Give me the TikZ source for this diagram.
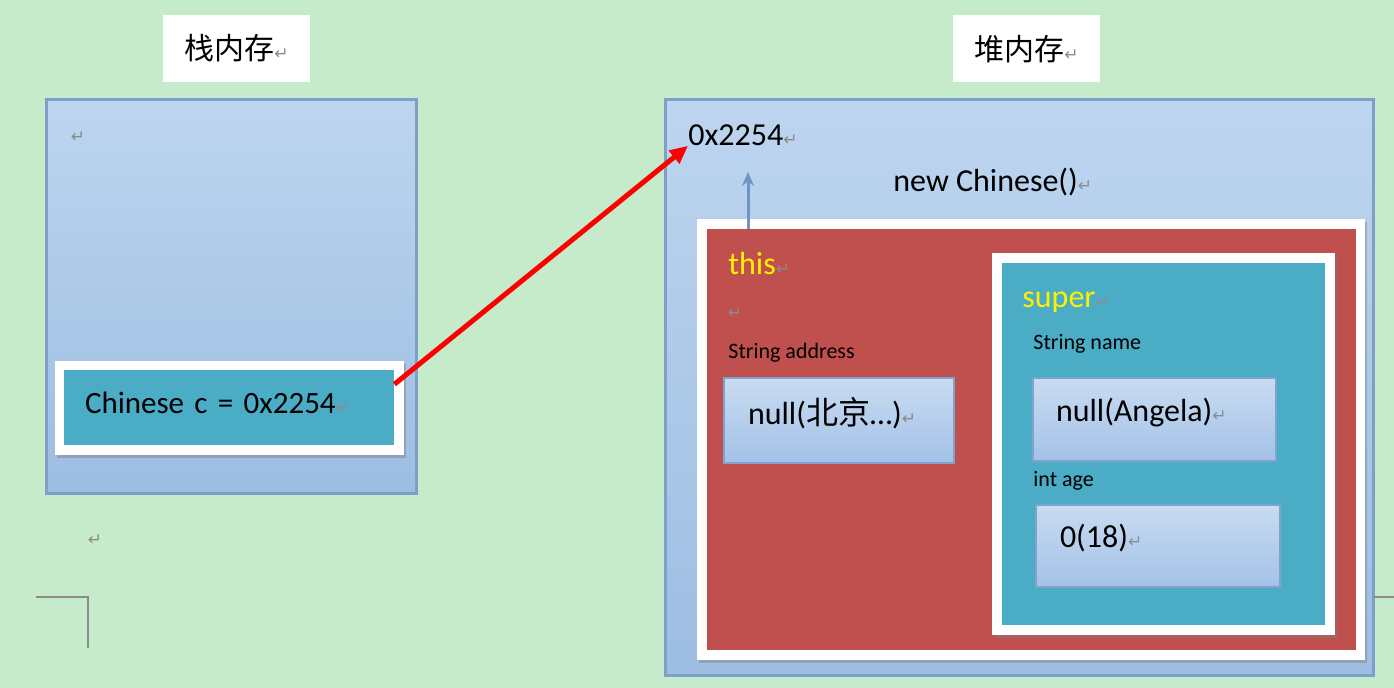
\documentclass[tikz,border=0pt]{standalone}
\usepackage{fontspec}
\setmainfont{Carlito}
\newfontfamily\cjk{Noto Sans CJK SC}
\newfontfamily\retfont{DejaVu Sans}
\usetikzlibrary{arrows.meta}
\usetikzlibrary{positioning}
\usetikzlibrary{shadows}

\definecolor{bg}{HTML}{C6EBCA}
\definecolor{boxline}{HTML}{7D9FCA}
\definecolor{memtop}{HTML}{BDD5EF}
\definecolor{membot}{HTML}{9DBDE2}
\definecolor{valtop}{HTML}{C8DCF2}
\definecolor{valbot}{HTML}{A4C1E6}
\definecolor{valline}{HTML}{7FA3CF}
\definecolor{panelcyan}{HTML}{4BACC6}
\definecolor{objred}{HTML}{C0504D}
\definecolor{keyyellow}{HTML}{FFF000}
\definecolor{uparrow}{HTML}{6E95C4}
\definecolor{retgray}{HTML}{8C8C8C}

\newcommand{\retmark}{{\retfont\fontsize{8.5}{10}\selectfont\color{retgray}↵}}

\tikzset{
  title/.style={fill=white, minimum width=73.5pt, minimum height=33.5pt, font=\fontsize{15}{18}\selectfont},
  memory/.style={draw=boxline, line width=1.5pt, top color=memtop, bottom color=membot},
  frame/.style={fill=white, drop shadow={shadow xshift=1pt, shadow yshift=-1.5pt, fill=black!50, opacity=.45}},
  valuebox/.style={draw=valline, line width=1.2pt, top color=valtop, bottom color=valbot, align=left,
                   text depth=10pt, font=\fontsize{16}{19}\selectfont},
  keyword/.style={anchor=west, inner sep=0pt, text=keyyellow, font=\fontsize{16}{19}\selectfont},
  field/.style={anchor=west, inner sep=0pt, font=\fontsize{11}{13}\selectfont},
  plain/.style={anchor=west, inner sep=0pt, font=\fontsize{16}{19}\selectfont},
}

\begin{document}
\begin{tikzpicture}[x=1pt, y=1pt, >=Stealth]
    \fill[bg] (0,0) rectangle (697,344);
    \useasboundingbox (0,0) rectangle (697,344);

    % stack side
    \node[title] (stacktitle) at (118.25,319.75) {{\cjk 栈内存}\retmark};
    \node[memory, minimum width=185pt, minimum height=197pt] (stack) at (115.5,195.5) {};
    \node[inner sep=0pt] (stackret) at (39,275.5) {\retmark};
    \node[frame, minimum width=174.5pt, minimum height=47pt] (varframe) at (114.75,140) {};
    \node[fill=panelcyan, minimum width=165pt, minimum height=37.5pt, text width=144pt, inner xsep=10.5pt, align=left,
          text depth=5pt, font=\fontsize{15.5}{19}\selectfont] (var) at (114.5,140.25) {Chinese c = 0x2254\retmark};
    \node[inner sep=0pt] (belowret) at (47.5,74) {\retmark};
    \draw[retgray, line width=0.6pt] (18,45.5) -- (44,45.5) -- (44,20);

    % heap side
    \node[title] (heaptitle) at (513.25,319.5) {{\cjk 堆内存}\retmark};
    \node[memory, minimum width=354pt, minimum height=288pt] (heap) at (509.5,150) {};
    \draw[retgray, line width=0.6pt] (686.5,45.5) -- (697,45.5);
    \node[plain] (addr) at (344,276.5) {0x2254\retmark};
    \node[plain] (newobj) at (446.5,253) {new Chinese()\retmark};

    \node[frame, minimum width=334pt, minimum height=220.5pt] (objframe) at (515.5,124.25) {};
    \node[fill=objred, minimum width=324.5pt, minimum height=210.5pt] (obj) at (515.75,124.25) {};
    \node[keyword] (thislabel) at (364,212) {this\retmark};
    \node[inner sep=0pt] (thisret) at (367.5,187.5) {\retmark};
    \node[field] (addrlabel) at (364,167.5) {String address};
    \node[valuebox, minimum width=115pt, minimum height=42.5pt, text width=91pt, inner xsep=12pt] (addrval)
          at (419.5,133.75) {null({\cjk 北京}…)\retmark};

    \node[frame, minimum width=171.5pt, minimum height=191pt] (superframe) at (581.75,122) {};
    \node[fill=panelcyan, minimum width=161.5pt, minimum height=181pt] (super) at (581.75,122) {};
    \node[keyword] (superlabel) at (511,193) {super\retmark};
    \node[field] (namelabel) at (516.5,172) {String name};
    \node[valuebox, minimum width=121.5pt, minimum height=41.5pt, text width=98.5pt, inner xsep=11.5pt] (nameval)
          at (577.25,134.25) {null(Angela)\retmark};
    \node[field] (agelabel) at (516.5,103.5) {int age};
    \node[valuebox, minimum width=122pt, minimum height=41pt, text width=98pt, inner xsep=12pt] (ageval)
          at (579,71) {0(18)\retmark};

    % references
    \coordinate (up) at (374,258);
    \draw[-{Stealth[length=7pt,width=6pt]}, uparrow, line width=1.5pt] (obj.north -| up) -- (up);
    \draw[-{Triangle[length=9pt,width=8pt]}, red, line width=2.5pt] (var.8) -- (addr.south west);
\end{tikzpicture}
\end{document}
